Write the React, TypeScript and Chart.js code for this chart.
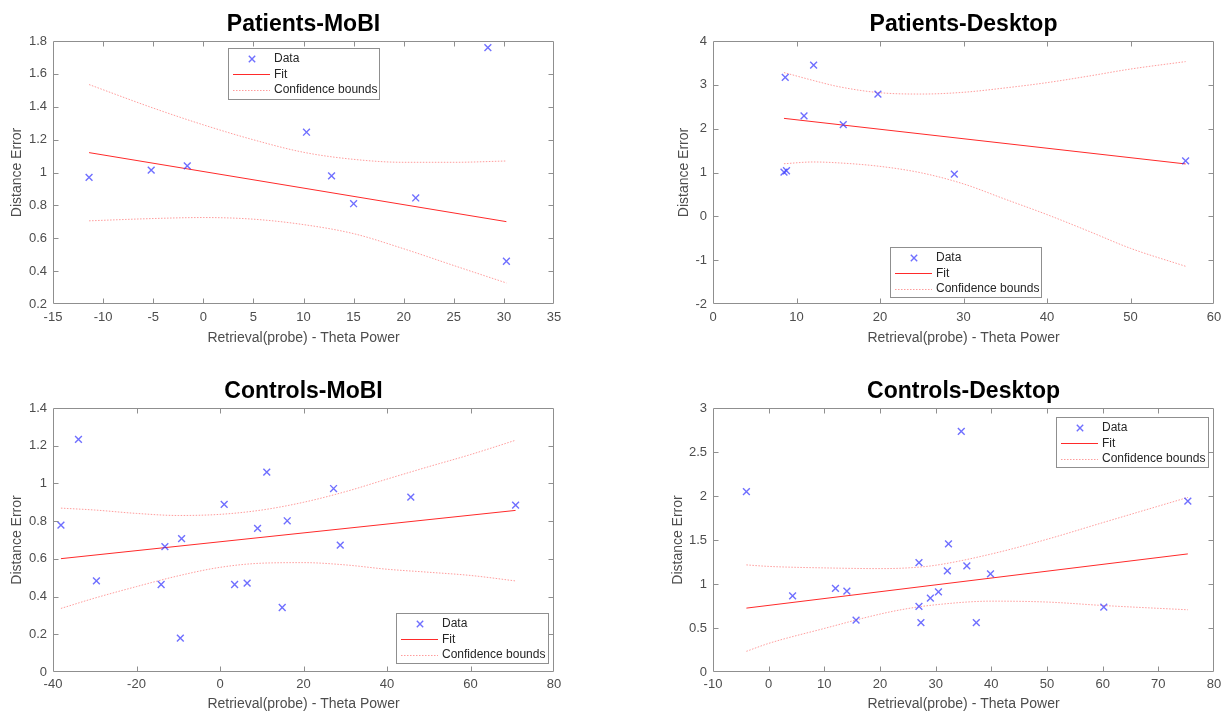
import React, { useEffect, useRef } from "react";
import { Chart, registerables } from "chart.js";

Chart.register(...registerables);

const FONT = "'Liberation Sans', Arial, Helvetica, sans-serif";

// ---------- Patients-MoBI ----------
const pmX = [-11.4, -5.2, -1.6, 10.3, 12.8, 15.0, 21.2, 28.4, 30.25];
const pmY = [0.97, 1.015, 1.04, 1.245, 0.98, 0.81, 0.845, 1.76, 0.46];
const pmFitX = [-11.4, 30.25];
const pmFitY = [1.121, 0.701];
const pmBoundX = [-11.4, -5, 0, 5, 10, 15, 20, 25, 30.25];
const pmUpper = [1.535, 1.392, 1.29, 1.199, 1.123, 1.08, 1.062, 1.062, 1.07];
const pmLower = [0.706, 0.72, 0.726, 0.716, 0.683, 0.628, 0.536, 0.434, 0.328];
const pmXTicks = [-15, -10, -5, 0, 5, 10, 15, 20, 25, 30, 35];
const pmYTicks = [0.2, 0.4, 0.6, 0.8, 1, 1.2, 1.4, 1.6, 1.8];

// ---------- Patients-Desktop ----------
const pdX = [8.5, 8.8, 8.65, 12.05, 10.9, 15.6, 19.75, 28.9, 56.6];
const pdY = [1.01, 1.04, 3.17, 3.45, 2.29, 2.09, 2.79, 0.965, 1.265];
const pdFitX = [8.5, 56.6];
const pdFitY = [2.235, 1.195];
const pdBoundX = [8.5, 12, 15, 20, 25, 30, 35, 40, 45, 50, 56.6];
const pdUpper = [3.28, 3.1, 2.96, 2.82, 2.79, 2.83, 2.93, 3.05, 3.2, 3.36, 3.53];
const pdLower = [1.2, 1.24, 1.22, 1.14, 0.99, 0.74, 0.39, 0.04, -0.34, -0.73, -1.14];
const pdXTicks = [0, 10, 20, 30, 40, 50, 60];
const pdYTicks = [-2, -1, 0, 1, 2, 3, 4];

// ---------- Controls-MoBI ----------
const cmX = [-38.1, -33.9, -29.6, -14.1, -13.2, -9.2, -9.5, 1.0, 3.5, 6.5, 9.0, 11.2, 14.9, 16.1, 27.2, 28.8, 45.7, 70.8];
const cmY = [0.779, 1.234, 0.483, 0.464, 0.665, 0.707, 0.18, 0.889, 0.464, 0.471, 0.762, 1.06, 0.342, 0.802, 0.973, 0.673, 0.927, 0.885];
const cmFitX = [-38.1, 70.8];
const cmFitY = [0.601, 0.857];
const cmBoundX = [-38.1, -30, -20, -10, 0, 10, 20, 30, 40, 50, 60, 70.8];
const cmUpper = [0.869, 0.859, 0.841, 0.83, 0.836, 0.859, 0.9, 0.956, 1.023, 1.089, 1.153, 1.229];
const cmLower = [0.337, 0.392, 0.453, 0.51, 0.555, 0.577, 0.58, 0.568, 0.545, 0.529, 0.512, 0.483];
const cmXTicks = [-40, -20, 0, 20, 40, 60, 80];
const cmYTicks = [0, 0.2, 0.4, 0.6, 0.8, 1, 1.2, 1.4];

// ---------- Controls-Desktop ----------
const cdX = [-4.0, 4.3, 12.0, 14.05, 15.7, 27.0, 27.0, 27.35, 29.05, 30.5, 32.1, 32.3, 34.6, 35.6, 37.3, 39.85, 60.2, 75.3];
const cdY = [2.05, 0.865, 0.95, 0.918, 0.59, 1.243, 0.745, 0.56, 0.84, 0.91, 1.15, 1.455, 2.735, 1.205, 0.56, 1.115, 0.737, 1.942];
const cdFitX = [-4.0, 75.3];
const cdFitY = [0.726, 1.342];
const cdBoundX = [-4, 0, 10, 20, 25, 30, 40, 50, 60, 75.3];
const cdUpper = [1.217, 1.2, 1.183, 1.175, 1.183, 1.213, 1.341, 1.508, 1.697, 1.984];
const cdLower = [0.235, 0.325, 0.495, 0.658, 0.721, 0.764, 0.805, 0.795, 0.756, 0.707];
const cdXTicks = [-10, 0, 10, 20, 30, 40, 50, 60, 70, 80];
const cdYTicks = [0, 0.5, 1, 1.5, 2, 2.5, 3];

const X_TITLE = "Retrieval(probe) - Theta Power";
const Y_TITLE = "Distance Error";

const BLUE = "rgba(50,50,255,0.7)";
const RED = "#ff2a2a";
const PINK = "rgba(255,90,90,0.6)";

const zip = (xs: number[], ys: number[]) => xs.map((x, i) => ({ x, y: ys[i] }));

const axesPlugin = {
  id: "matlabAxes",
  afterDatasetsDraw(chart: any) {
    const { ctx, chartArea: a, scales } = chart;
    const L = Math.round(a.left) + 0.5;
    const R = Math.round(a.right) - 0.5;
    const T = Math.round(a.top) + 0.5;
    const B = Math.round(a.bottom) - 0.5;
    const len = 5;
    ctx.save();
    ctx.strokeStyle = "#8f8f8f";
    ctx.lineWidth = 1;
    ctx.beginPath();
    ctx.rect(L, T, R - L, B - T);
    for (const t of scales.x.ticks) {
      const px = Math.round(scales.x.getPixelForValue(t.value)) + 0.5;
      if (px <= L + 1 || px >= R - 1) continue;
      ctx.moveTo(px, B);
      ctx.lineTo(px, B - len);
      ctx.moveTo(px, T);
      ctx.lineTo(px, T + len);
    }
    for (const t of scales.y.ticks) {
      const py = Math.round(scales.y.getPixelForValue(t.value)) + 0.5;
      if (py <= T + 1 || py >= B - 1) continue;
      ctx.moveTo(L, py);
      ctx.lineTo(L + len, py);
      ctx.moveTo(R, py);
      ctx.lineTo(R - len, py);
    }
    ctx.stroke();
    ctx.restore();
  },
};

const legendPlugin = {
  id: "boxLegend",
  afterDraw(chart: any, _args: any, opts: any) {
    const { ctx, chartArea: a } = chart;
    const w = opts.width;
    const h = opts.height;
    const x0 = Math.round(opts.left !== undefined ? a.left + opts.left : a.right - opts.right - w);
    const y0 = Math.round(opts.top !== undefined ? a.top + opts.top : a.bottom - opts.bottom - h);
    ctx.save();
    ctx.fillStyle = "#ffffff";
    ctx.fillRect(x0, y0, w, h);
    ctx.strokeStyle = "#8f8f8f";
    ctx.lineWidth = 1;
    ctx.strokeRect(x0 + 0.5, y0 + 0.5, w, h);
    const seen = new Set<string>();
    const items: any[] = [];
    for (const ds of chart.data.datasets) {
      if (seen.has(ds.label)) continue;
      seen.add(ds.label);
      items.push(ds);
    }
    ctx.font = `12px ${FONT}`;
    ctx.textBaseline = "middle";
    ctx.textAlign = "left";
    items.forEach((ds, i) => {
      const cy = y0 + 11 + i * 15.3;
      const ly = Math.round(cy) + 0.5;
      ctx.save();
      if (ds.showLine === false) {
        const r = 3.2;
        ctx.strokeStyle = BLUE;
        ctx.lineWidth = 1.4;
        ctx.beginPath();
        ctx.moveTo(x0 + 24 - r, cy - r);
        ctx.lineTo(x0 + 24 + r, cy + r);
        ctx.moveTo(x0 + 24 - r, cy + r);
        ctx.lineTo(x0 + 24 + r, cy - r);
        ctx.stroke();
      } else {
        ctx.strokeStyle = ds.borderDash ? PINK : RED;
        ctx.lineWidth = 1;
        ctx.setLineDash(ds.borderDash ? ds.borderDash : []);
        ctx.beginPath();
        ctx.moveTo(x0 + 5, ly);
        ctx.lineTo(x0 + 42, ly);
        ctx.stroke();
      }
      ctx.restore();
      ctx.fillStyle = "#262626";
      ctx.fillText(ds.label, x0 + 46, cy);
    });
    ctx.restore();
  },
};

type Spec = {
  title: string;
  x: number[];
  y: number[];
  fitX: number[];
  fitY: number[];
  boundX: number[];
  upper: number[];
  lower: number[];
  xTicks: number[];
  yTicks: number[];
  box: { x: number; y: number; w: number; h: number };
  yAxisW: number;
  yTitlePad: number;
  xAxisH: number;
  xTitlePad: number;
  xTickPad: number;
  padRight: number;
  titlePad: { top: number; bottom: number };
  legend: any;
};

const specs: Spec[] = [
  {
    title: "Patients-MoBI",
    x: pmX, y: pmY, fitX: pmFitX, fitY: pmFitY, boundX: pmBoundX, upper: pmUpper, lower: pmLower,
    xTicks: pmXTicks, yTicks: pmYTicks,
    box: { x: 0, y: 0, w: 612, h: 357 },
    yAxisW: 53, yTitlePad: 10, xAxisH: 53, xTitlePad: 12, xTickPad: 6, padRight: 58,
    titlePad: { top: 13, bottom: 5 },
    legend: { left: 175, top: 7, width: 151, height: 51 },
  },
  {
    title: "Patients-Desktop",
    x: pdX, y: pdY, fitX: pdFitX, fitY: pdFitY, boundX: pdBoundX, upper: pdUpper, lower: pdLower,
    xTicks: pdXTicks, yTicks: pdYTicks,
    box: { x: 612, y: 0, w: 613, h: 357 },
    yAxisW: 101, yTitlePad: 65, xAxisH: 53, xTitlePad: 12, xTickPad: 6, padRight: 11,
    titlePad: { top: 13, bottom: 5 },
    legend: { left: 177, bottom: 7, width: 151, height: 50 },
  },
  {
    title: "Controls-MoBI",
    x: cmX, y: cmY, fitX: cmFitX, fitY: cmFitY, boundX: cmBoundX, upper: cmUpper, lower: cmLower,
    xTicks: cmXTicks, yTicks: cmYTicks,
    box: { x: 0, y: 357, w: 612, h: 357 },
    yAxisW: 53, yTitlePad: 10, xAxisH: 42, xTitlePad: 3, xTickPad: 5, padRight: 58,
    titlePad: { top: 23, bottom: 5 },
    legend: { right: 6, bottom: 9, width: 152, height: 50 },
  },
  {
    title: "Controls-Desktop",
    x: cdX, y: cdY, fitX: cdFitX, fitY: cdFitY, boundX: cdBoundX, upper: cdUpper, lower: cdLower,
    xTicks: cdXTicks, yTicks: cdYTicks,
    box: { x: 612, y: 357, w: 613, h: 357 },
    yAxisW: 101, yTitlePad: 59, xAxisH: 42, xTitlePad: 3, xTickPad: 5, padRight: 11,
    titlePad: { top: 23, bottom: 5 },
    legend: { right: 6, top: 9, width: 152, height: 50 },
  },
];

function buildConfig(s: Spec): any {
  const tickFont = { family: FONT, size: 13 };
  const titleFont = { family: FONT, size: 14, lineHeight: 1 };
  return {
    type: "scatter",
    data: {
      datasets: [
        {
          label: "Data",
          data: zip(s.x, s.y),
          showLine: false,
          pointStyle: "crossRot",
          pointRadius: 4.8,
          borderColor: BLUE,
          backgroundColor: BLUE,
          borderWidth: 1.4,
        },
        {
          label: "Fit",
          data: zip(s.fitX, s.fitY),
          showLine: true,
          pointRadius: 0,
          borderColor: RED,
          borderWidth: 1,
          fill: false,
        },
        {
          label: "Confidence bounds",
          data: zip(s.boundX, s.upper),
          showLine: true,
          pointRadius: 0,
          borderColor: PINK,
          borderWidth: 1,
          borderDash: [1.5, 1.5],
          cubicInterpolationMode: "monotone",
          fill: false,
        },
        {
          label: "Confidence bounds",
          data: zip(s.boundX, s.lower),
          showLine: true,
          pointRadius: 0,
          borderColor: PINK,
          borderWidth: 1,
          borderDash: [1.5, 1.5],
          cubicInterpolationMode: "monotone",
          fill: false,
        },
      ],
    },
    options: {
      responsive: false,
      animation: false,
      events: [],
      devicePixelRatio: 1,
      layout: { padding: { left: 0, top: 0, right: s.padRight, bottom: 0 } },
      plugins: {
        legend: { display: false },
        tooltip: { enabled: false },
        title: {
          display: true,
          text: s.title,
          fullSize: false,
          color: "#000000",
          font: { family: FONT, size: 23, weight: "bold", lineHeight: 1 },
          padding: s.titlePad,
        },
        boxLegend: s.legend,
      },
      scales: {
        x: {
          type: "linear",
          min: s.xTicks[0],
          max: s.xTicks[s.xTicks.length - 1],
          grid: { display: false, drawTicks: false },
          border: { display: false },
          afterBuildTicks: (sc: any) => {
            sc.ticks = s.xTicks.map((v) => ({ value: v }));
          },
          afterFit: (sc: any) => {
            sc.height = s.xAxisH;
            sc.paddingLeft = 0;
            sc.paddingRight = 0;
          },
          ticks: {
            font: tickFont,
            color: "#4d4d4d",
            padding: s.xTickPad,
            maxRotation: 0,
            autoSkip: false,
            callback: (v: any) => String(Number(v)),
          },
          title: {
            display: true,
            text: X_TITLE,
            color: "#4d4d4d",
            font: titleFont,
            padding: { top: 0, bottom: s.xTitlePad },
          },
        },
        y: {
          type: "linear",
          min: s.yTicks[0],
          max: s.yTicks[s.yTicks.length - 1],
          grid: { display: false, drawTicks: false },
          border: { display: false },
          afterBuildTicks: (sc: any) => {
            sc.ticks = s.yTicks.map((v) => ({ value: v }));
          },
          afterFit: (sc: any) => {
            sc.width = s.yAxisW;
            sc.paddingTop = 0;
            sc.paddingBottom = 0;
          },
          ticks: {
            font: tickFont,
            color: "#4d4d4d",
            padding: 6,
            autoSkip: false,
            callback: (v: any) => String(Number(v)),
          },
          title: {
            display: true,
            text: Y_TITLE,
            color: "#4d4d4d",
            font: titleFont,
            padding: { top: s.yTitlePad, bottom: 0 },
          },
        },
      },
    },
    plugins: [axesPlugin, legendPlugin],
  };
}

function Panel({ spec }: { spec: Spec }) {
  const ref = useRef<HTMLCanvasElement>(null);
  useEffect(() => {
    if (!ref.current) return;
    const chart = new Chart(ref.current, buildConfig(spec));
    return () => chart.destroy();
  }, [spec]);
  return (
    <canvas
      ref={ref}
      width={spec.box.w}
      height={spec.box.h}
      style={{
        position: "absolute",
        left: spec.box.x,
        top: spec.box.y,
        width: spec.box.w,
        height: spec.box.h,
      }}
    />
  );
}

export default function App() {
  return (
    <div
      style={{
        position: "absolute",
        left: 0,
        top: 0,
        width: 1225,
        height: 714,
        background: "#ffffff",
        overflow: "hidden",
      }}
    >
      {specs.map((s) => (
        <Panel key={s.title} spec={s} />
      ))}
    </div>
  );
}
